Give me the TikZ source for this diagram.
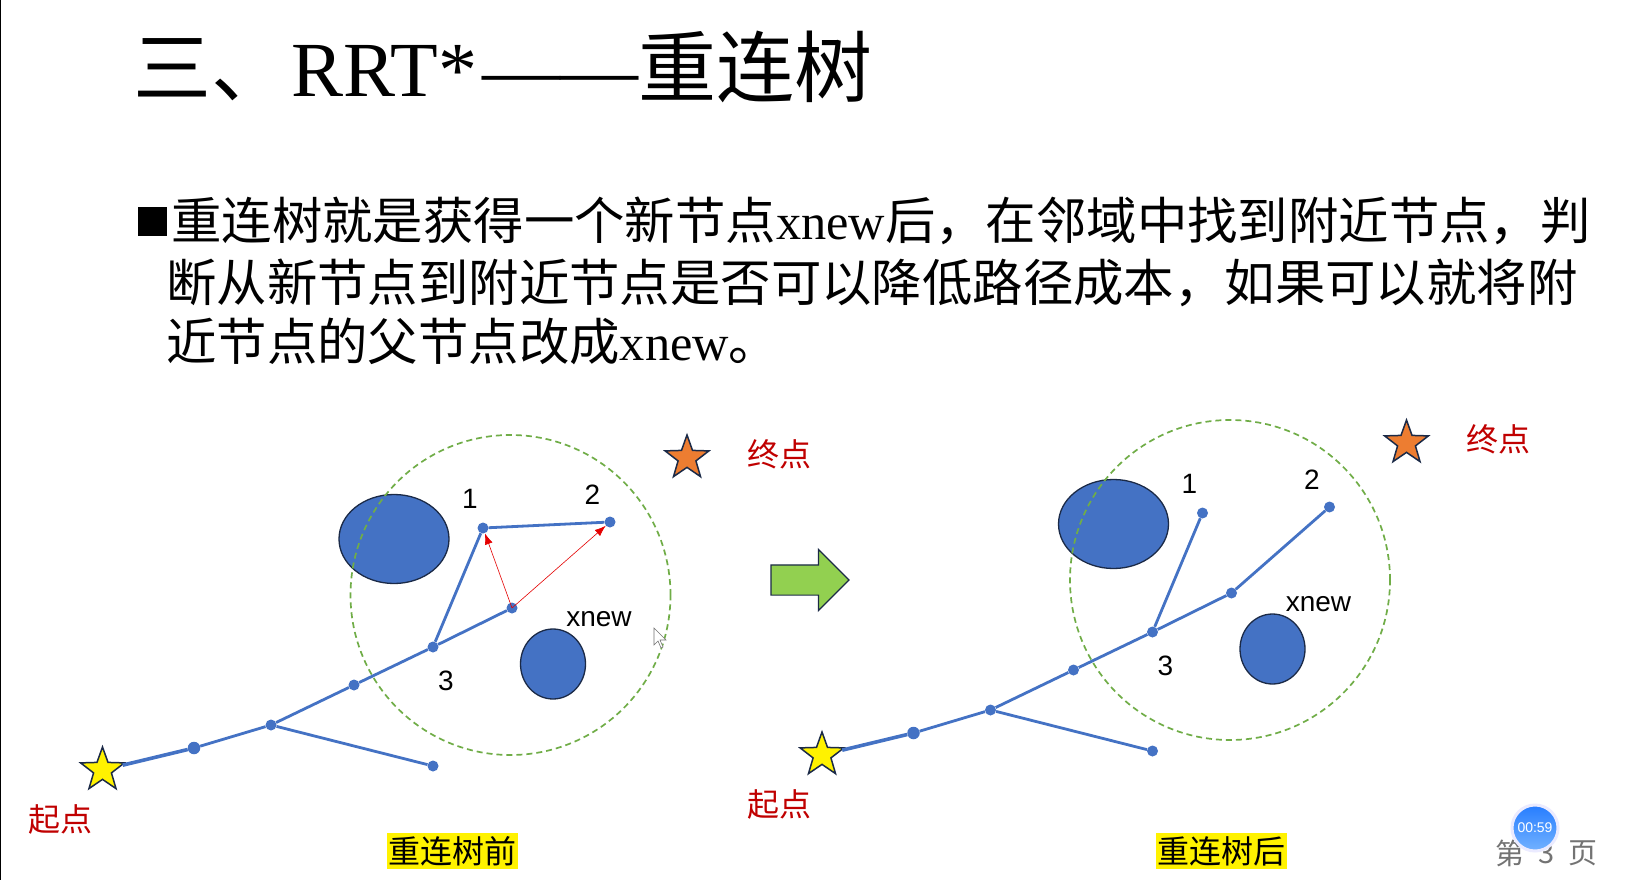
\documentclass[tikz,border=0pt]{standalone}
\usepackage{fontspec}
\setmainfont{Noto Sans CJK SC}
\newfontfamily\latinserif{Liberation Serif}
\newfontfamily\latinsans{Liberation Sans}
\usetikzlibrary{shapes.geometric,shapes.arrows,arrows.meta}
\definecolor{treeblue}{HTML}{4472C4}
\definecolor{edgenavy}{HTML}{1B2A47}
\definecolor{zonegreen}{HTML}{70AD47}
\definecolor{labelred}{HTML}{C00000}
\definecolor{arrowgreen}{HTML}{92D050}
\definecolor{goalorange}{HTML}{ED7D31}
\tikzset{
  titletext/.style={inner sep=0pt,anchor=base west,font=\fontsize{78}{78}\selectfont},
  bodytext/.style={inner sep=0pt,anchor=base west,font=\fontsize{50.4}{50.4}\selectfont},
  treedot/.style={circle,fill=treeblue,inner sep=0pt,minimum size=11pt},
  treeline/.style={draw=treeblue,line width=2.8pt},
  rewire/.style={-{Latex[length=11pt,width=8pt]},draw=red!90!black,line width=0.6pt},
  obstacle/.style={ellipse,draw=edgenavy,fill=treeblue,line width=1.3pt,inner sep=0pt},
  zone/.style={circle,draw=zonegreen,dash pattern=on 6pt off 4pt,line width=1.7pt,inner sep=0pt,minimum size=320pt},
  marker/.style={star,star points=5,star point ratio=2.45,draw=edgenavy,line width=1.5pt,inner sep=0pt,minimum size=46pt},
  redtext/.style={inner sep=0pt,text=labelred,font=\fontsize{32}{32}\selectfont},
  numtext/.style={inner sep=0pt,font=\latinsans\fontsize{28}{28}\selectfont},
  captiontext/.style={fill=yellow,inner sep=0pt,minimum width=131pt,minimum height=36pt,font=\fontsize{32}{32}\selectfont},
  pagetext/.style={inner sep=0pt,text=black!55,font=\fontsize{29}{29}\selectfont}
}
\begin{document}
\begin{tikzpicture}[>=latex,x=1pt,y=-1pt]
    \useasboundingbox (0,0) rectangle (1630,880);
    \fill[white] (0,0) rectangle (1630,880);
    \draw[black,line width=1.2pt] (0.6,0) -- (0.6,880);

    \node[titletext] (title) at (133,97) {三、\hspace{2pt}{\latinserif RRT*\hspace{5.5pt}——}重连树};
    \node[rectangle,fill=black,inner sep=0pt,minimum size=29pt] (bullet) at (152,221) {};
    \node[bodytext] (lineone) at (171,239) {重连树就是获得一个新节点{\latinserif xnew}后，在邻域中找到附近节点，判};
    \node[bodytext] (linetwo) at (166,301) {断从新节点到附近节点是否可以降低路径成本，如果可以就将附};
    \node[bodytext] (linethree) at (166,360) {近节点的父节点改成{\latinserif xnew}。};

    \foreach \side/\dx/\dy in {l/0/0,r/719.5/-15} {
      \begin{scope}[shift={(\dx,\dy)}]
        \node[obstacle,minimum width=110pt,minimum height=89pt] (\side-obsa) at (394,539) {};
        \node[obstacle,minimum width=65pt,minimum height=70pt] (\side-obsb) at (553,664) {};
        \node[zone] (\side-zone) at (510.5,595) {};
        \node[marker,fill=yellow] (\side-start) at (102.5,770) {};
        \node[marker,fill=goalorange] (\side-goal) at (687,458) {};
        \node[redtext] (\side-startlabel) at (60,819) {起点};
        \node[redtext] (\side-goallabel) at (779,454) {终点};
        \node[treedot,minimum size=12.5pt] (\side-a) at (194,748) {};
        \node[treedot] (\side-b) at (271,725) {};
        \node[treedot] (\side-c) at (354,685) {};
        \node[treedot] (\side-d) at (433,647) {};
        \node[treedot] (\side-e) at (512,608) {};
        \node[treedot] (\side-f) at (433,766) {};
        \node[treedot] (\side-one) at (483,528) {};
        \node[treedot] (\side-two) at (610,522) {};
        \node[numtext] (\side-numone) at (470,499) {1};
        \node[numtext] (\side-numtwo) at (592.5,495) {2};
        \node[numtext] (\side-numthree) at (446,681) {3};
        \node[numtext] (\side-xnew) at (599,619) {xnew};
        \draw[treeline,line width=3.6pt] (\side-start) -- (\side-a);
        \draw[treeline] (\side-a) -- (\side-b) -- (\side-c) -- (\side-d) -- (\side-e);
        \draw[treeline] (\side-b) -- (\side-f);
        \draw[treeline] (\side-d) -- (\side-one);
      \end{scope}
    }
    \draw[treeline] (l-one) -- (l-two);
    \draw[rewire] (l-e.center) -- (l-one);
    \draw[rewire] (l-e.center) -- (l-two);
    \draw[treeline] (r-e) -- (r-two);

    \node[captiontext] (capleft) at (452.5,851) {重连树前};
    \node[captiontext] (capright) at (1221.5,851) {重连树后};

    \node[single arrow,draw=edgenavy,fill=arrowgreen,line width=1.2pt,inner xsep=0pt,inner ysep=14.5pt,
      minimum height=78pt,minimum width=60pt,single arrow head extend=15.5pt] (bigarrow) at (802.5,580) {};

    \fill[white,draw=black!55,line width=0.6pt] (654,628) -- (654,645) -- (658,641) -- (661,648) -- (663,647) -- (660,640) -- (666,640) -- cycle;

    \node[pagetext] (pagefirst) at (1510,853) {第};
    \node[pagetext] (pagenum) at (1547,853) {3};
    \node[pagetext] (pagelast) at (1583,853) {页};
    \node[circle,draw=blue!8,line width=3pt,top color=blue!60!cyan!85,bottom color=cyan!45!blue!55,inner sep=0pt,minimum size=46pt,
      text=white,font=\latinsans\fontsize{14}{14}\selectfont] (timer) at (1535,828) {00:59};
\end{tikzpicture}
\end{document}
